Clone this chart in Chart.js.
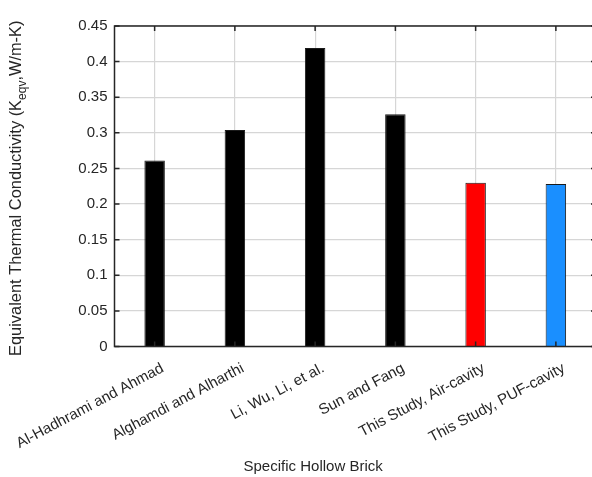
<!DOCTYPE html>
<html>
<head>
<meta charset="utf-8">
<script src="https://cdn.jsdelivr.net/npm/chart.js@4.4.1/dist/chart.umd.min.js"></script>
<style>
  html, body { margin: 0; padding: 0; background: #fff; overflow: hidden; }
  #wrap { width: 600px; height: 477px; }
</style>
</head>
<body>
<div id="wrap"><canvas id="c" width="600" height="477"></canvas></div>
<script>
// Hollow brick studies compared
const categories = [
  'Al-Hadhrami and Ahmad',
  'Alghamdi and Alharthi',
  'Li, Wu, Li, et al.',
  'Sun and Fang',
  'This Study, Air-cavity',
  'This Study, PUF-cavity'
];
// Equivalent thermal conductivity, W/m-K
const keqValues = [0.261, 0.304, 0.419, 0.326, 0.230, 0.228];
const barColors = ['#000000', '#000000', '#000000', '#000000', '#ff0000', '#1a8fff'];
const yTickValues = [0, 0.05, 0.1, 0.15, 0.2, 0.25, 0.3, 0.35, 0.4, 0.45];
const yTickLabels = ['0', '0.05', '0.1', '0.15', '0.2', '0.25', '0.3', '0.35', '0.4', '0.45'];
const yTitleMain = 'Equivalent Thermal Conductivity (K';
const yTitleSub = 'eqv';
const yTitleEnd = ',W/m-K)';
const xTitle = 'Specific Hollow Brick';

const FONT = '"Liberation Sans", Arial, Helvetica, sans-serif';
const TEXT = '#262626';
const AXIS = '#262626';

// Box around the plot with inward-pointing ticks, plus the axis titles
const axesBox = {
  id: 'axesBox',
  afterDatasetsDraw(chart) {
    const { ctx, chartArea: a, scales } = chart;
    const x = scales.x, y = scales.y;
    const tl = 5;
    ctx.save();
    ctx.strokeStyle = AXIS;
    ctx.lineWidth = 1.5;
    ctx.beginPath();
    ctx.rect(a.left, a.top, a.right - a.left, a.bottom - a.top);
    ctx.stroke();
    ctx.beginPath();
    yTickValues.forEach(v => {
      const py = y.getPixelForValue(v);
      ctx.moveTo(a.left, py); ctx.lineTo(a.left + tl, py);
      ctx.moveTo(a.right, py); ctx.lineTo(a.right - tl, py);
    });
    categories.forEach((c, i) => {
      const px = x.getPixelForValue(i);
      ctx.moveTo(px, a.bottom); ctx.lineTo(px, a.bottom - tl);
      ctx.moveTo(px, a.top); ctx.lineTo(px, a.top + tl);
    });
    ctx.stroke();

    // y-axis title with subscript
    const big = 16.4, small = 12;
    ctx.fillStyle = TEXT;
    ctx.textBaseline = 'alphabetic';
    ctx.textAlign = 'left';
    ctx.font = big + 'px ' + FONT;
    const w1 = ctx.measureText(yTitleMain).width;
    const w3 = ctx.measureText(yTitleEnd).width;
    ctx.font = small + 'px ' + FONT;
    const w2 = ctx.measureText(yTitleSub).width;
    const total = w1 + w2 + w3;
    ctx.translate(21, (a.top + a.bottom) / 2 + 2);
    ctx.rotate(-Math.PI / 2);
    let sx = -total / 2;
    ctx.font = big + 'px ' + FONT;
    ctx.fillText(yTitleMain, sx, 0); sx += w1;
    ctx.font = small + 'px ' + FONT;
    ctx.fillText(yTitleSub, sx, 4.5); sx += w2;
    ctx.font = big + 'px ' + FONT;
    ctx.fillText(yTitleEnd, sx, 0);
    ctx.restore();

    // x-axis title
    ctx.save();
    ctx.fillStyle = TEXT;
    ctx.font = '15px ' + FONT;
    ctx.textAlign = 'center';
    ctx.textBaseline = 'alphabetic';
    ctx.fillText(xTitle, x.getPixelForValue(2) - 2, 471);
    ctx.restore();
  }
};

new Chart(document.getElementById('c'), {
  type: 'bar',
  data: {
    labels: categories,
    datasets: [{
      data: keqValues,
      backgroundColor: barColors,
      borderColor: '#1a1a1a',
      borderWidth: 1,
      barPercentage: 0.255,
      categoryPercentage: 1.0
    }]
  },
  options: {
    responsive: false,
    animation: false,
    layout: { padding: { top: 26, right: 4, bottom: 0, left: 0 } },
    plugins: { legend: { display: false }, tooltip: { enabled: false } },
    scales: {
      x: {
        offset: true,
        grid: { display: true, offset: false, color: '#d6d6d6', lineWidth: 1.2, drawTicks: false },
        border: { display: false },
        ticks: {
          color: TEXT,
          font: { family: FONT, size: 15 },
          minRotation: 28, maxRotation: 28,
          padding: 13,
          labelOffset: 8,
          autoSkip: false
        },
        afterFit(s) {
          s.height = 130.5;
          s.paddingLeft = 0;
          s.paddingRight = 0;
        }
      },
      y: {
        min: 0, max: 0.45,
        afterBuildTicks(s) { s.ticks = yTickValues.map(v => ({ value: v })); },
        grid: { color: '#d6d6d6', lineWidth: 1.2, drawTicks: false },
        border: { display: false },
        ticks: {
          color: TEXT,
          font: { family: FONT, size: 15 },
          padding: 7,
          callback(v) { const i = yTickValues.indexOf(v); return i >= 0 ? yTickLabels[i] : ''; }
        },
        afterFit(s) {
          s.width = 114.5;
          s.paddingTop = 0;
          s.paddingBottom = 0;
        }
      }
    }
  },
  plugins: [axesBox]
});
</script>
</body>
</html>
